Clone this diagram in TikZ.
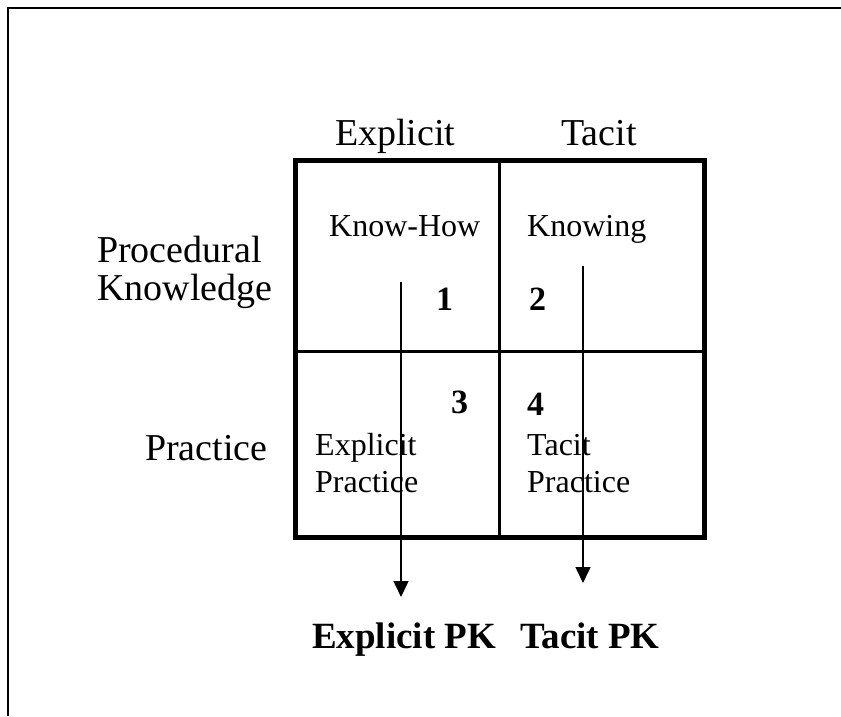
\documentclass[tikz,border=0pt]{standalone}
\usepackage{fontspec}
\setmainfont{Liberation Serif}
\usetikzlibrary{arrows.meta}
\begin{document}
\begin{tikzpicture}[x=1pt,y=-1pt,
    big/.style={font=\fontsize{38}{44}\selectfont,inner sep=0pt,anchor=base west},
    cell/.style={font=\fontsize{32}{37}\selectfont,inner sep=0pt,anchor=base west,align=left},
    num/.style={font=\fontsize{34}{40}\selectfont\bfseries,inner sep=0pt,anchor=base west},
    pk/.style={font=\fontsize{37}{44}\selectfont\bfseries,inner sep=0pt,anchor=base west},
    flow/.style={line width=1.5pt,-{Triangle[width=15pt,length=16pt]}}]
    \useasboundingbox (0,0) rectangle (841,716);
    % frame
    \draw[line width=2pt] (8,716) -- (8,8) -- (841,8);
    % the grid
    \draw[line width=5pt] (295,160) rectangle (704,537);
    \draw[line width=3pt] (499,160) -- (499,537);
    \draw[line width=3pt] (295,351) -- (704,351);
    % headers
    \node[big] (expl) at (335,145) {Explicit};
    \node[big] (tac) at (561,145) {Tacit};
    \node[big] (proc) at (97,262) {Procedural};
    \node[big] (know) at (97,300) {Knowledge};
    \node[big] (prac) at (145,460) {Practice};
    % cells
    \node[cell] (knowhow) at (329,236) {Know-How};
    \node[cell] (knowing) at (527,236) {Knowing};
    \node[cell] (explprac) at (315,492) {Explicit\\Practice};
    \node[cell] (tacprac) at (527,492) {Tacit\\Practice};
    \node[num] (n1) at (436,310) {1};
    \node[num] (n2) at (529,310) {2};
    \node[num] (n3) at (451,413) {3};
    \node[num] (n4) at (527,415) {4};
    % arrows
    \coordinate (a1) at (401,282);
    \coordinate (a1e) at (401,597);
    \coordinate (a2) at (583,266);
    \coordinate (a2e) at (583,583);
    \draw[flow] (a1) -- (a1e);
    \draw[flow] (a2) -- (a2e);
    \node[pk] (explpk) at (312,648) {Explicit PK};
    \node[pk] (tacpk) at (520,648) {Tacit PK};
\end{tikzpicture}
\end{document}
